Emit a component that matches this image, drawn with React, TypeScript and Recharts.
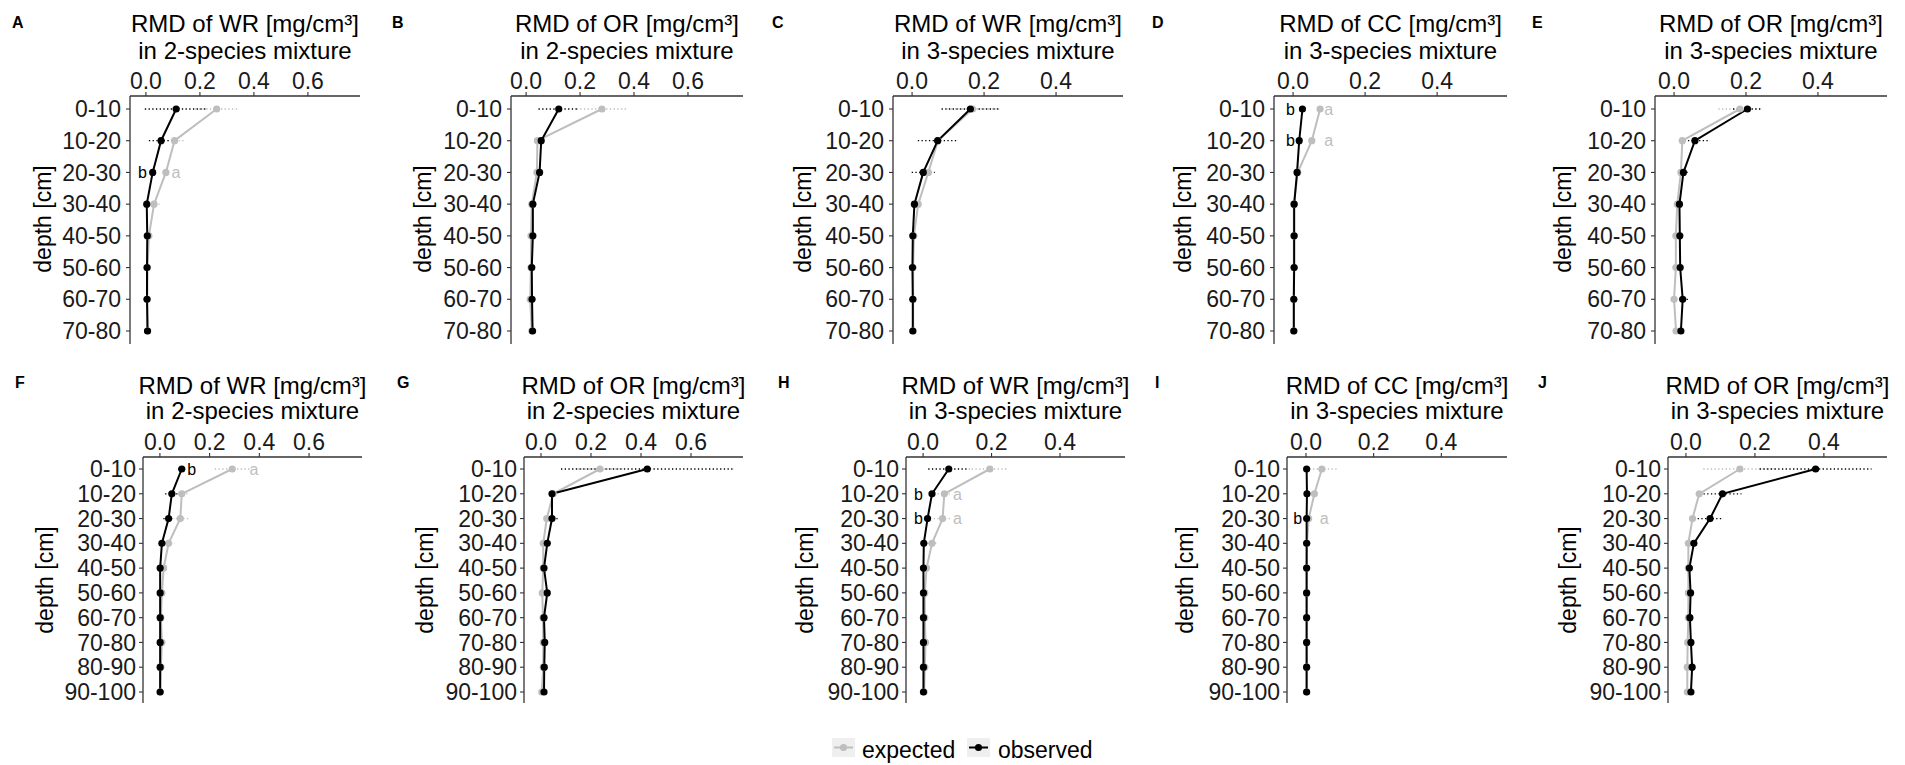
import React from "react";
import { LineChart, Line, XAxis, YAxis, ErrorBar, LabelList } from "recharts";

const FONT = '"Liberation Sans", Arial, Helvetica, sans-serif';
const GREY = "#bebebe";
const BLACK = "#000000";
const AXIS = "#333333";

const depths8 = ["0-10", "10-20", "20-30", "30-40", "40-50", "50-60", "60-70", "70-80"];
const depths10 = [...depths8, "80-90", "90-100"];

const ticks2sp = [0, 0.2, 0.4, 0.6];
const ticks3sp = [0, 0.2, 0.4];

// A – WR, 2-species mixture (0–80 cm)
const obsA = [0.112, 0.056, 0.025, 0.003, 0.005, 0.004, 0.004, 0.006];
const obsErrA = [0.116, 0.045, 0.01, 0.004, 0.003, 0.003, 0.003, 0.003];
const expA = [0.262, 0.106, 0.074, 0.03, 0.011, 0.006, 0.005, 0.006];
const expErrA = [0.08, 0.04, 0.012, 0.025, 0.006, 0.003, 0.003, 0.003];
const lettersA = [{ depth: "20-30", obs: "b", exp: "a" }];

// B – OR, 2-species mixture (0–80 cm)
const obsB = [0.121, 0.056, 0.05, 0.025, 0.025, 0.021, 0.022, 0.024];
const obsErrB = [0.075, 0.01, 0.012, 0.004, 0.004, 0.004, 0.004, 0.004];
const expB = [0.281, 0.042, 0.04, 0.021, 0.018, 0.018, 0.015, 0.021];
const expErrB = [0.094, 0.008, 0.01, 0.004, 0.004, 0.004, 0.004, 0.004];

// C – WR, 3-species mixture (0–80 cm)
const obsC = [0.162, 0.071, 0.031, 0.0065, 0.002, 0.001, 0.002, 0.002];
const obsErrC = [0.08, 0.055, 0.032, 0.004, 0.002, 0.002, 0.002, 0.002];
const expC = [0.168, 0.072, 0.045, 0.017, 0.005, 0.003, 0.003, 0.003];
const expErrC = [0.07, 0.01, 0.015, 0.015, 0.003, 0.002, 0.002, 0.002];

// D – CC, 3-species mixture (0–80 cm)
const obsD = [0.026, 0.017, 0.011, 0.003, 0.003, 0.003, 0.002, 0.002];
const obsErrD = [0.008, 0.005, 0.004, 0.002, 0.002, 0.002, 0.002, 0.002];
const expD = [0.075, 0.052, 0.013, 0.002, 0.002, 0.002, 0.002, 0.002];
const expErrD = [0.008, 0.008, 0.003, 0.001, 0.001, 0.001, 0.001, 0.001];
const lettersD = [
  { depth: "0-10", obs: "b", exp: "a" },
  { depth: "10-20", obs: "b", exp: "a" },
];

// E – OR, 3-species mixture (0–80 cm)
const obsE = [0.204, 0.058, 0.026, 0.015, 0.016, 0.017, 0.024, 0.019];
const obsErrE = [0.04, 0.04, 0.012, 0.004, 0.004, 0.004, 0.02, 0.006];
const expE = [0.183, 0.023, 0.019, 0.009, 0.005, 0.005, 0.0, 0.0055];
const expErrE = [0.06, 0.01, 0.005, 0.004, 0.003, 0.003, 0.003, 0.003];

// F – WR, 2-species mixture (0–100 cm)
const obsF = [0.088, 0.048, 0.035, 0.008, 0.001, 0.001, 0.001, 0.001, 0.001, 0.001];
const obsErrF = [0.015, 0.027, 0.021, 0.006, 0.002, 0.002, 0.002, 0.002, 0.002, 0.002];
const expF = [0.291, 0.088, 0.082, 0.035, 0.015, 0.008, 0.004, 0.008, 0.004, 0.001];
const expErrF = [0.07, 0.027, 0.033, 0.023, 0.005, 0.003, 0.003, 0.003, 0.003, 0.002];
const lettersF = [{ depth: "0-10", obs: "b", exp: "a" }];

// G – OR, 2-species mixture (0–100 cm)
const obsG = [0.425, 0.044, 0.044, 0.025, 0.012, 0.025, 0.012, 0.015, 0.013, 0.012];
const obsErrG = [0.345, 0.01, 0.027, 0.008, 0.004, 0.006, 0.004, 0.004, 0.004, 0.004];
const expG = [0.236, 0.049, 0.023, 0.009, 0.009, 0.005, 0.008, 0.009, 0.009, 0.003];
const expErrG = [0.09, 0.01, 0.01, 0.005, 0.003, 0.003, 0.003, 0.003, 0.003, 0.003];

// H – WR, 3-species mixture (0–100 cm)
const obsH = [0.075, 0.026, 0.013, 0.002, 0.001, 0.001, 0.001, 0.001, 0.001, 0.001];
const obsErrH = [0.06, 0.008, 0.006, 0.002, 0.001, 0.001, 0.001, 0.001, 0.001, 0.001];
const expH = [0.195, 0.062, 0.057, 0.026, 0.01, 0.005, 0.005, 0.007, 0.005, 0.003];
const expErrH = [0.053, 0.02, 0.026, 0.013, 0.004, 0.002, 0.002, 0.002, 0.002, 0.002];
const lettersH = [
  { depth: "10-20", obs: "b", exp: "a" },
  { depth: "20-30", obs: "b", exp: "a" },
];

// I – CC, 3-species mixture (0–100 cm)
const obsI = [0.002, 0.003, 0.002, 0.002, 0.002, 0.002, 0.002, 0.002, 0.002, 0.002];
const obsErrI = [0.002, 0.002, 0.002, 0.002, 0.002, 0.002, 0.002, 0.002, 0.002, 0.002];
const expI = [0.047, 0.025, 0.008, 0.003, 0.002, 0.002, 0.002, 0.002, 0.002, 0.002];
const expErrI = [0.048, 0.01, 0.004, 0.002, 0.002, 0.002, 0.002, 0.002, 0.002, 0.002];
const lettersI = [{ depth: "20-30", obs: "b", exp: "a" }];

// J – OR, 3-species mixture (0–100 cm)
const obsJ = [0.376, 0.106, 0.07, 0.023, 0.01, 0.0135, 0.0115, 0.0145, 0.018, 0.0145];
const obsErrJ = [0.162, 0.055, 0.036, 0.006, 0.003, 0.003, 0.003, 0.003, 0.004, 0.003];
const expJ = [0.1565, 0.0386, 0.019, 0.007, 0.007, 0.007, 0.007, 0.005, 0.004, 0.004];
const expErrJ = [0.106, 0.01, 0.006, 0.003, 0.002, 0.002, 0.002, 0.002, 0.002, 0.002];

type Letter = { depth: string; obs: string; exp: string };

type Panel = {
  tag: string;
  species: string;
  mixture: string;
  depths: string[];
  obs: number[];
  obsErr: number[];
  exp: number[];
  expErr: number[];
  letters: Letter[];
  letterX: [number, number];
  ticks: number[];
  domain: [number, number];
  row: 0 | 1;
  left: number;
  right: number;
  tagX: number;
  yTitleX: number;
};

// vertical layout of the two rows of panels
const rows = [
  { top: 96, bottom: 344, padTop: 13, padBottom: 13, catMargin: 5, title1: 32, title2: 59, tagY: 28, yTitleY: 219 },
  { top: 457, bottom: 703, padTop: 12, padBottom: 11, catMargin: 3, title1: 394, title2: 419, tagY: 388, yTitleY: 580 },
];

const panels: Panel[] = [
  { tag: "A", species: "WR", mixture: "2", depths: depths8, obs: obsA, obsErr: obsErrA, exp: expA, expErr: expErrA, letters: lettersA, letterX: [-0.0125, 0.111], ticks: ticks2sp, domain: [-0.059, 0.793], row: 0, left: 130, right: 360, tagX: 12, yTitleX: 51 },
  { tag: "B", species: "OR", mixture: "2", depths: depths8, obs: obsB, obsErr: obsErrB, exp: expB, expErr: expErrB, letters: [], letterX: [0, 0], ticks: ticks2sp, domain: [-0.056, 0.804], row: 0, left: 511, right: 743, tagX: 392, yTitleX: 431 },
  { tag: "C", species: "WR", mixture: "3", depths: depths8, obs: obsC, obsErr: obsErrC, exp: expC, expErr: expErrC, letters: [], letterX: [0, 0], ticks: ticks3sp, domain: [-0.053, 0.586], row: 0, left: 893, right: 1123, tagX: 772, yTitleX: 811 },
  { tag: "D", species: "CC", mixture: "3", depths: depths8, obs: obsD, obsErr: obsErrD, exp: expD, expErr: expErrD, letters: lettersD, letterX: [-0.0073, 0.099], ticks: ticks3sp, domain: [-0.053, 0.594], row: 0, left: 1274, right: 1507, tagX: 1152, yTitleX: 1191 },
  { tag: "E", species: "OR", mixture: "3", depths: depths8, obs: obsE, obsErr: obsErrE, exp: expE, expErr: expErrE, letters: [], letterX: [0, 0], ticks: ticks3sp, domain: [-0.053, 0.592], row: 0, left: 1655, right: 1887, tagX: 1532, yTitleX: 1571 },
  { tag: "F", species: "WR", mixture: "2", depths: depths10, obs: obsF, obsErr: obsErrF, exp: expF, expErr: expErrF, letters: lettersF, letterX: [0.128, 0.378], ticks: ticks2sp, domain: [-0.068, 0.813], row: 1, left: 143, right: 362, tagX: 15, yTitleX: 52.5 },
  { tag: "G", species: "OR", mixture: "2", depths: depths10, obs: obsG, obsErr: obsErrG, exp: expG, expErr: expErrG, letters: [], letterX: [0, 0], ticks: ticks2sp, domain: [-0.068, 0.808], row: 1, left: 524, right: 743, tagX: 397, yTitleX: 432.5 },
  { tag: "H", species: "WR", mixture: "3", depths: depths10, obs: obsH, obsErr: obsErrH, exp: expH, expErr: expErrH, letters: lettersH, letterX: [-0.0137, 0.1005], ticks: ticks3sp, domain: [-0.05, 0.59], row: 1, left: 906, right: 1125, tagX: 778, yTitleX: 812.5 },
  { tag: "I", species: "CC", mixture: "3", depths: depths10, obs: obsI, obsErr: obsErrI, exp: expI, expErr: expErrI, letters: lettersI, letterX: [-0.0245, 0.054], ticks: ticks3sp, domain: [-0.056, 0.594], row: 1, left: 1287, right: 1507, tagX: 1155, yTitleX: 1192.5 },
  { tag: "J", species: "OR", mixture: "3", depths: depths10, obs: obsJ, obsErr: obsErrJ, exp: expJ, expErr: expErrJ, letters: [], letterX: [0, 0], ticks: ticks3sp, domain: [-0.052, 0.583], row: 1, left: 1668, right: 1887, tagX: 1538, yTitleX: 1576 },
];

const Y_W = 110;
const X_H = 40;
const M_R = 12;
const M_B = 4;

const tickStyle = { fontSize: 23, fill: "#1a1a1a", fontFamily: FONT };

// significance letter drawn centred on its point
const letterLabel = (color: string) => (props: any) => {
  const vb = props.viewBox || {};
  const x = props.x ?? vb.x;
  const y = props.y ?? vb.y;
  if (!props.value || x == null || y == null || Number.isNaN(x)) return null;
  return (
    <text x={x} y={y} dy="0.36em" textAnchor="middle" fontSize={16} fill={color} fontFamily={FONT}>
      {props.value}
    </text>
  );
};

function DepthPanel({ p }: { p: Panel }) {
  const row = rows[p.row];
  const plotW = p.right - p.left;
  const plotH = row.bottom - row.top;
  const data = p.depths.map((depth, i) => {
    const l = p.letters.find((d) => d.depth === depth);
    return {
      depth,
      obs: p.obs[i],
      obsErr: p.obsErr[i],
      exp: p.exp[i],
      expErr: p.expErr[i],
      obsTagX: l ? p.letterX[0] : null,
      obsTag: l ? l.obs : "",
      expTagX: l ? p.letterX[1] : null,
      expTag: l ? l.exp : "",
    };
  });

  return (
    <div style={{ position: "absolute", left: p.left - Y_W, top: row.top - X_H }}>
      <LineChart
        layout="vertical"
        width={Y_W + plotW + M_R}
        height={X_H + plotH + M_B}
        data={data}
        margin={{ top: 0, left: 0, right: M_R, bottom: M_B }}
      >
        <XAxis
          type="number"
          orientation="top"
          domain={p.domain}
          allowDataOverflow
          ticks={p.ticks}
          interval={0}
          tickFormatter={(v: number) => v.toFixed(1)}
          height={X_H}
          tickSize={4}
          tickMargin={3.5}
          tick={tickStyle}
          axisLine={{ stroke: AXIS, strokeWidth: 1.3 }}
          tickLine={{ stroke: AXIS, strokeWidth: 1.1 }}
        />
        <YAxis
          type="category"
          dataKey="depth"
          width={Y_W}
          interval={0}
          padding={{ top: row.padTop, bottom: row.padBottom }}
          tickSize={4}
          tickMargin={row.catMargin}
          tick={tickStyle}
          axisLine={{ stroke: AXIS, strokeWidth: 1.3 }}
          tickLine={{ stroke: AXIS, strokeWidth: 1.1 }}
        />
        <Line
          dataKey="exp"
          stroke={GREY}
          strokeWidth={2}
          dot={{ r: 3.6, fill: GREY, stroke: GREY, strokeWidth: 0 }}
          activeDot={false}
          isAnimationActive={false}
        >
          <ErrorBar
            dataKey="expErr"
            direction="x"
            width={0}
            stroke={GREY}
            strokeWidth={1.3}
            strokeDasharray="1.3 2.4"
            isAnimationActive={false}
          />
        </Line>
        <Line
          dataKey="obs"
          stroke={BLACK}
          strokeWidth={2}
          dot={{ r: 3.6, fill: BLACK, stroke: BLACK, strokeWidth: 0 }}
          activeDot={false}
          isAnimationActive={false}
        >
          <ErrorBar
            dataKey="obsErr"
            direction="x"
            width={0}
            stroke={BLACK}
            strokeWidth={1.3}
            strokeDasharray="1.3 2.4"
            isAnimationActive={false}
          />
        </Line>
        <Line dataKey="obsTagX" stroke="none" dot={false} activeDot={false} legendType="none" isAnimationActive={false}>
          <LabelList dataKey="obsTag" content={letterLabel(BLACK)} />
        </Line>
        <Line dataKey="expTagX" stroke="none" dot={false} activeDot={false} legendType="none" isAnimationActive={false}>
          <LabelList dataKey="expTag" content={letterLabel(GREY)} />
        </Line>
      </LineChart>
    </div>
  );
}

function Texts() {
  return (
    <svg
      width={1905}
      height={765}
      style={{ position: "absolute", left: 0, top: 0, pointerEvents: "none" }}
      fontFamily={FONT}
    >
      {panels.map((p) => {
        const row = rows[p.row];
        const cx = (p.left + p.right) / 2;
        return (
          <g key={p.tag}>
            <text x={p.tagX} y={row.tagY} fontSize={16} fontWeight="bold" fill="#000">
              {p.tag}
            </text>
            <text x={cx} y={row.title1} textAnchor="middle" fontSize={24} fill="#000">
              RMD of {p.species} [mg/cm³]
            </text>
            <text x={cx} y={row.title2} textAnchor="middle" fontSize={24} fill="#000">
              in {p.mixture}-species mixture
            </text>
            <text
              x={p.yTitleX}
              y={row.yTitleY}
              transform={`rotate(-90 ${p.yTitleX} ${row.yTitleY})`}
              textAnchor="middle"
              fontSize={23}
              fill="#000"
            >
              depth [cm]
            </text>
          </g>
        );
      })}

      {/* legend */}
      <rect x={832} y={738} width={23} height={19} fill="#efefef" />
      <line x1={834} x2={853} y1={747.5} y2={747.5} stroke={GREY} strokeWidth={2} />
      <circle cx={843.5} cy={747.5} r={3.6} fill={GREY} />
      <text x={862} y={758} fontSize={23} fill="#000">
        expected
      </text>
      <rect x={967} y={738} width={23} height={19} fill="#efefef" />
      <line x1={969} x2={988} y1={747.5} y2={747.5} stroke={BLACK} strokeWidth={2} />
      <circle cx={978.5} cy={747.5} r={3.6} fill={BLACK} />
      <text x={998} y={758} fontSize={23} fill="#000">
        observed
      </text>
    </svg>
  );
}

export default function App() {
  return (
    <div
      style={{
        position: "absolute",
        left: 0,
        top: 0,
        width: 1905,
        height: 765,
        background: "#ffffff",
        overflow: "hidden",
        fontFamily: FONT,
      }}
    >
      {panels.map((p) => (
        <DepthPanel key={p.tag} p={p} />
      ))}
      <Texts />
    </div>
  );
}
